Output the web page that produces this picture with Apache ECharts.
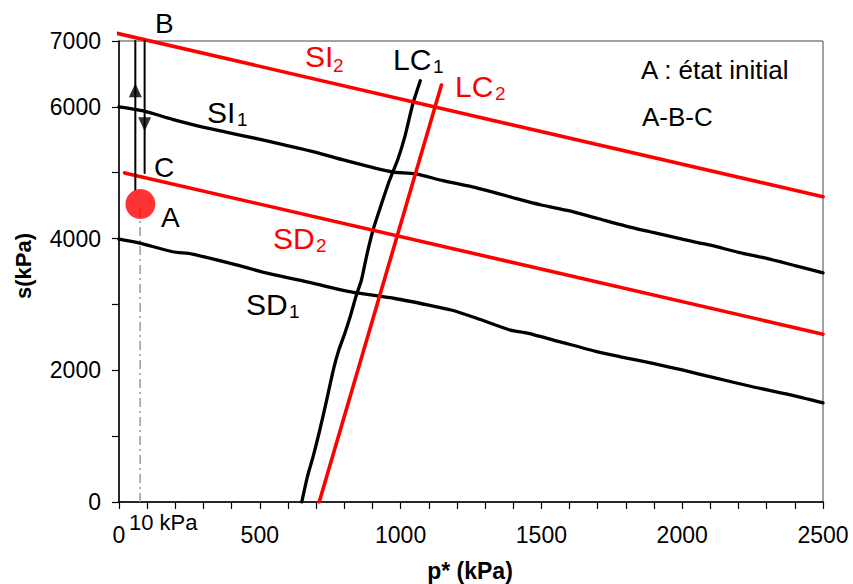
<!DOCTYPE html>
<html><head><meta charset="utf-8">
<script src="https://cdn.jsdelivr.net/npm/echarts@6/dist/echarts.min.js"></script>
<style>html,body{margin:0;padding:0;background:#fff}#c{width:853px;height:584px}</style>
</head><body><div id="c"></div>
<script>
// ---- data (p* in kPa, s in kPa) ----
const SI1_p = [0, 90, 190, 310, 460, 590, 700, 800, 900, 975, 1050, 1150, 1270, 1400, 1500, 1600, 1700, 1800, 1900, 2000, 2100, 2200, 2300, 2400, 2500];
const SI1_s = [6000, 5935, 5810, 5680, 5545, 5420, 5310, 5190, 5080, 5010, 4985, 4880, 4770, 4620, 4510, 4420, 4305, 4190, 4090, 3990, 3900, 3790, 3700, 3590, 3480];
const SD1_p = [0, 70, 190, 260, 400, 530, 680, 824, 980, 1100, 1180, 1270, 1390, 1450, 1560, 1700, 1780, 1900, 2000, 2120, 2250, 2380, 2500];
const SD1_s = [3990, 3935, 3800, 3765, 3620, 3470, 3330, 3190, 3090, 2990, 2915, 2790, 2610, 2565, 2440, 2280, 2205, 2100, 2005, 1880, 1750, 1630, 1505];
const LC1_p = [649, 670, 690, 713, 735, 761, 780, 802, 820, 843, 861, 880, 902, 930, 961, 990, 1015, 1044, 1070];
const LC1_s = [0, 400, 700, 1093, 1500, 2004, 2300, 2561, 2800, 3143, 3371, 3750, 4130, 4500, 4889, 5200, 5547, 6054, 6397];
const SI2_p = [-7, 2500];
const SI2_s = [7117, 4635];
const SD2_p = [20, 2500];
const SD2_s = [4997, 2549];
const LC2_p = [711, 1145];
const LC2_s = [0, 6332];
const pathUp_p = [58, 58];
const pathUp_s = [4740, 7000];
const pathDown_p = [91, 91];
const pathDown_s = [7000, 4995];
const pointA = [76, 4525];
const dashA_p = [75, 75];
const dashA_s = [0, 4525];
const arrowUp = [58, 6251];
const arrowDown = [91, 5735];
const xTicks = [0, 500, 1000, 1500, 2000, 2500];
const yTicks = [0, 2000, 4000, 6000, 7000];

const zip = (a, b) => a.map((v, i) => [v, b[i]]);
const FONT = "'Liberation Sans', Arial, sans-serif";

function lineSeries(name, p, s, color, width, extra) {
  return Object.assign({
    name, type: 'line', data: zip(p, s), showSymbol: false, symbol: 'none',
    smooth: false, lineStyle: { color, width, cap: 'round', join: 'round' }, silent: true, animation: false
  }, extra || {});
}

function txt(x, y, text, size, color, extra) {
  return Object.assign({
    type: 'text', x, y, z: 100,
    style: { text, fill: color || '#000', fontSize: size, fontFamily: FONT,
      align: 'left', textAlign: 'left', verticalAlign: 'middle', textVerticalAlign: 'middle' }
  }, extra || {});
}

const chart = echarts.init(document.getElementById('c'), null, { renderer: 'svg' });
const option = {
  animation: false,
  backgroundColor: '#fff',
  grid: { left: 119, right: 30, top: 41, bottom: 82, show: true, borderColor: '#444', borderWidth: 1, backgroundColor: 'transparent' },
  xAxis: {
    type: 'value', min: 0, max: 2500, interval: 100,
    axisLine: { lineStyle: { color: '#000', width: 1.5 } },
    axisTick: { show: true, length: 7, inside: false, lineStyle: { color: '#000', width: 1.2 } },
    splitLine: { show: false },
    axisLabel: { interval: 0, margin: 21, color: '#000', fontSize: 23, fontFamily: FONT,
      formatter: v => xTicks.includes(v) ? String(v) : '' }
  },
  yAxis: {
    type: 'value', min: 0, max: 7000, interval: 1000,
    axisLine: { lineStyle: { color: '#000', width: 1.5 } },
    axisTick: { show: true, length: 7, inside: false, lineStyle: { color: '#000', width: 1.2 } },
    splitLine: { show: false },
    axisLabel: { margin: 18, color: '#000', fontSize: 23, fontFamily: FONT,
      formatter: v => yTicks.includes(v) ? String(v) : '' }
  },
  series: [
    lineSeries('dashA', dashA_p, dashA_s, '#9a9a9a', 1.5, { lineStyle: { color: '#9a9a9a', width: 1.5, type: [9, 4, 2, 4] } }),
    lineSeries('SD1', SD1_p, SD1_s, '#000', 3.3, { smooth: 0.25 }),
    lineSeries('SI1', SI1_p, SI1_s, '#000', 3.3, { smooth: 0.25 }),
    lineSeries('LC1', LC1_p, LC1_s, '#000', 3.3, { smooth: 0.2 }),
    lineSeries('SD2', SD2_p, SD2_s, '#ff0000', 3.6),
    lineSeries('SI2', SI2_p, SI2_s, '#ff0000', 3.6, { clip: false }),
    lineSeries('LC2', LC2_p, LC2_s, '#ff0000', 3.6),
    lineSeries('pathUp', pathUp_p, pathUp_s, '#000', 2),
    lineSeries('pathDown', pathDown_p, pathDown_s, '#000', 2),
    { name: 'arrows', type: 'scatter', silent: true, symbol: 'triangle', symbolSize: [13, 14],
      itemStyle: { color: '#000' },
      data: [ { value: arrowUp, symbolRotate: 0 }, { value: arrowDown, symbolRotate: 180 } ] },
    { name: 'A', type: 'scatter', silent: true, symbol: 'circle', symbolSize: 30,
      itemStyle: { color: '#ff0000' }, data: [pointA], z: 5 }
  ],
  graphic: [
    txt(155, 23, 'B', 28),
    txt(154, 167, 'C', 28),
    txt(161, 217, 'A', 28),
    txt(207, 112, 'SI', 30),
    txt(237, 119, '1', 19),
    txt(305, 56, 'SI', 30, '#ff0000'),
    txt(333, 65, '2', 19, '#ff0000'),
    txt(393, 59, 'LC', 30),
    txt(433, 66, '1', 19),
    txt(455, 86, 'LC', 30, '#ff0000'),
    txt(495, 93, '2', 19, '#ff0000'),
    txt(273, 238, 'SD', 30, '#ff0000'),
    txt(316, 245, '2', 19, '#ff0000'),
    txt(246, 304, 'SD', 30),
    txt(289, 311, '1', 19),
    txt(641, 70, 'A : état initial', 26),
    txt(642, 117, 'A-B-C', 26),
    txt(129, 522, '10 kPa', 22),
    { type: 'text', x: 470, y: 571, z: 100,
      style: { text: 'p* (kPa)', fill: '#000', fontSize: 23, fontWeight: 'bold', fontFamily: FONT,
        align: 'center', textAlign: 'center', verticalAlign: 'middle', textVerticalAlign: 'middle' } },
    { type: 'text', x: 23, y: 266, rotation: Math.PI / 2, z: 100,
      style: { text: 's(kPa)', fill: '#000', fontSize: 22, fontWeight: 'bold', fontFamily: FONT,
        align: 'center', textAlign: 'center', verticalAlign: 'middle', textVerticalAlign: 'middle' } }
  ]
};
chart.setOption(option);
</script>
</body></html>
